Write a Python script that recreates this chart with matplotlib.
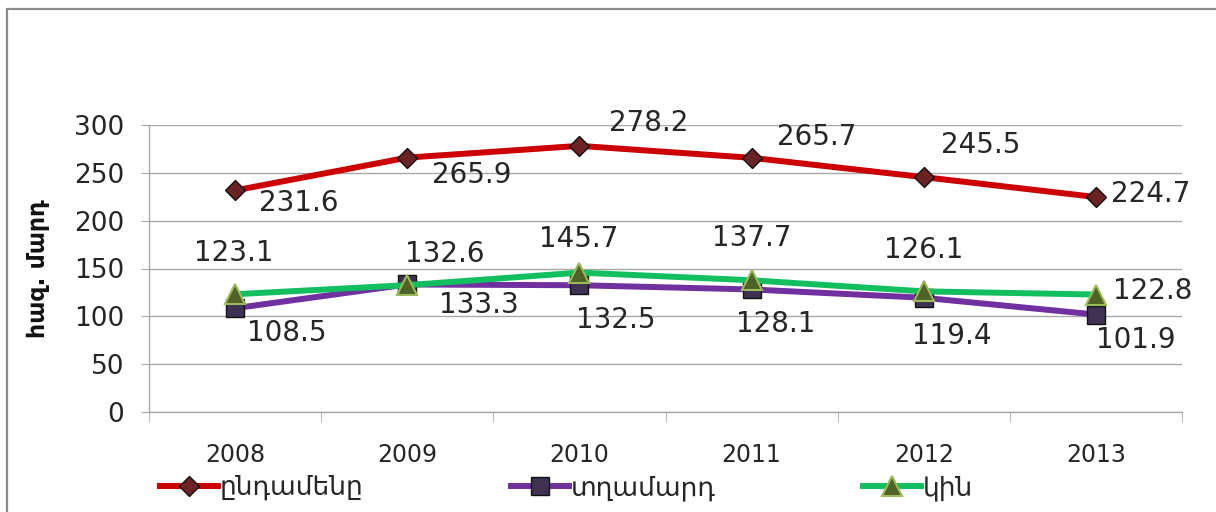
import matplotlib
matplotlib.use('Agg')
import matplotlib.pyplot as plt
from matplotlib.patches import Rectangle
from matplotlib.ticker import FixedLocator

# ---- data ----
years = ['2008', '2009', '2010', '2011', '2012', '2013']
total = [231.6, 265.9, 278.2, 265.7, 245.5, 224.7]
men = [108.5, 133.3, 132.5, 128.1, 119.4, 101.9]
women = [123.1, 132.6, 145.7, 137.7, 126.1, 122.8]
series_names = ['ընդամենը', 'տղամարդ', 'կին']
y_label = 'հազ. մարդ'
y_ticks = [0, 50, 100, 150, 200, 250, 300]

# ---- label offsets (pixels, y up) ----
off_total = [(64, -13), (65, -17), (69, 23), (65, 21), (57, 32), (55, 3)]
off_men = [(52, -25), (72, -21), (36, -35), (24, -35), (28, -38), (40, -25)]
off_women = [(-1, 41), (38, 31), (-1, 34), (0, 42), (0, 41), (57, 4)]

plt.rcParams['font.family'] = ['DejaVu Sans']
TXT = '#262626'
GRID = '#a8a8a8'

W, H = 1216, 512
fig = plt.figure(figsize=(W / 100, H / 100), dpi=100)
fig.patch.set_facecolor('white')

# outer chart border
fig.add_artist(Rectangle((7 / W, -0.5), 2.0, 0.5 + 1 - 9 / H, transform=fig.transFigure,
                         fill=False, edgecolor='#8c8c8c', linewidth=1.6))

ax = fig.add_axes([149 / W, 100 / H, 1033 / W, 287 / H])
x = list(range(len(years)))

ax.plot(x, total, color='#CC0000', lw=4.3, marker='D', markersize=10,
        markerfacecolor='#6B2222', markeredgecolor='#111111', markeredgewidth=1.0,
        label=series_names[0], zorder=3)
ax.plot(x, men, color='#7030A0', lw=4.3, marker='s', markersize=13,
        markerfacecolor='#3F3151', markeredgecolor='#111111', markeredgewidth=1.0,
        label=series_names[1], zorder=4)
ax.plot(x, women, color='#12BF5E', lw=4.3, marker='^', markersize=14,
        markerfacecolor='#4F6228', markeredgecolor='#9BBB59', markeredgewidth=1.5,
        label=series_names[2], zorder=5)

for vals, offs in ((total, off_total), (men, off_men), (women, off_women)):
    for xi, v, (dx, dy) in zip(x, vals, offs):
        ax.annotate(f'{v:.1f}', (xi, v), xytext=(dx, dy), textcoords='offset pixels',
                    ha='center', va='center', fontsize=20, color=TXT, zorder=6)

ax.set_xlim(-0.5, len(years) - 0.5)
ax.set_ylim(0, 300)
ax.set_yticks(y_ticks)
ax.set_yticklabels([str(t) for t in y_ticks])
ax.set_xticks(x)
ax.set_xticklabels(years)
ax.xaxis.set_minor_locator(FixedLocator([i - 0.5 for i in range(len(years) + 1)]))

ax.grid(axis='y', color=GRID, lw=1.0, zorder=0)
for s in ('top', 'right'):
    ax.spines[s].set_visible(False)
for s in ('left', 'bottom'):
    ax.spines[s].set_color(GRID)
    ax.spines[s].set_linewidth(1.0)

ax.tick_params(axis='y', which='major', length=6, color=GRID, direction='out',
               labelsize=19, labelcolor=TXT, pad=12)
ax.tick_params(axis='x', which='major', length=0, labelsize=17, labelcolor=TXT, pad=22)
ax.tick_params(axis='x', which='minor', length=7.5, color=GRID, direction='out')

ax.set_ylabel(y_label, fontsize=17, fontweight='bold', color='#111111')
ax.yaxis.set_label_coords((50 - 149) / 1033, 0.5)

leg = fig.legend(loc='center left', bbox_to_anchor=(160 / W, 24 / H), ncol=3,
                 frameon=False, fontsize=19, handlelength=2.2, handletextpad=0.05,
                 columnspacing=5.6, borderpad=0, borderaxespad=0, labelcolor=TXT)

fig.savefig('out.png', dpi=100)
